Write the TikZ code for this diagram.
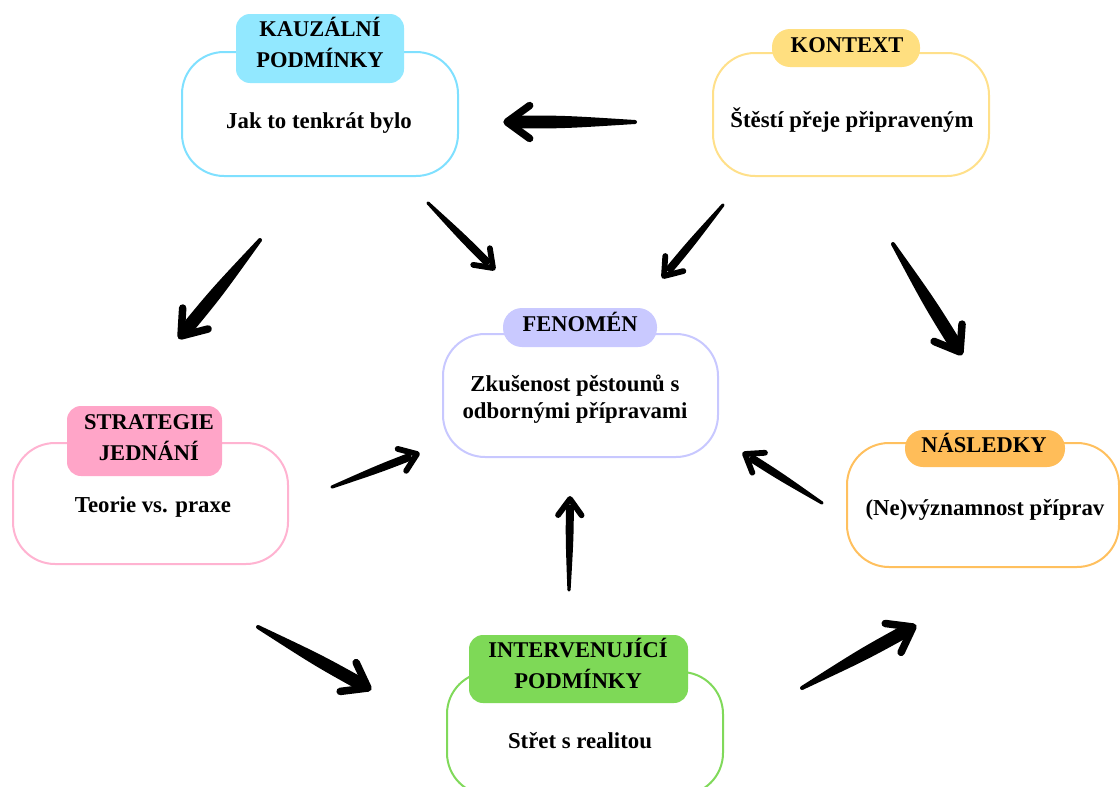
\documentclass[tikz,border=0pt]{standalone}
\usepackage{fontspec}
\setmainfont{Liberation Serif}
\usetikzlibrary{calc}
\definecolor{cyanB}{HTML}{7FE0FF}\definecolor{cyanF}{HTML}{92E8FF}
\definecolor{yelB}{HTML}{FFE08A}\definecolor{yelF}{HTML}{FFDF80}
\definecolor{lavB}{HTML}{C8C8FF}\definecolor{lavF}{HTML}{C9C9FF}
\definecolor{pinkB}{HTML}{FFB3D1}\definecolor{pinkF}{HTML}{FFA5C8}
\definecolor{oraB}{HTML}{FFC05E}\definecolor{oraF}{HTML}{FFBD59}
\definecolor{grnB}{HTML}{80D95A}\definecolor{grnF}{HTML}{7ED957}
\tikzset{
  mainbox/.style={draw=#1, line width=2pt, fill=white, rounded corners=42pt, inner sep=0pt},
  tabbox/.style={fill=#1, draw=none, inner sep=0pt},
  titletext/.style={font=\fontsize{22.5}{31}\selectfont\bfseries, inner sep=0pt, anchor=base},
  bodytext/.style={font=\fontsize{22.8}{27}\selectfont\bfseries, inner sep=0pt, anchor=base},
  shaft/.style={fill=black},
  chevron/.style={draw=black, line cap=round, line join=round},
}
\newcommand{\skarrow}[6]{%
  \coordinate (tmpE) at ($(#2)!6pt!(#1)$);
  \coordinate (tmpM) at ($(#1)!0.55!(#2)$);
  \fill[shaft] ($(#1)!#3!90:(#2)$) .. controls ($(tmpM)!#4!90:(#2)$) .. ($(tmpE)!#4!-90:(#1)$) -- ($(tmpE)!#4!90:(#1)$) .. controls ($(tmpM)!#4!-90:(#2)$) .. ($(#1)!#3!-90:(#2)$) -- cycle;
  \fill[shaft] (#1) circle[radius=#3];
  \draw[chevron, line width=#6] ($(#2)!#5!36:(#1)$) -- (#2) -- ($(#2)!#5!-36:(#1)$);
}
\newcommand{\bigarrow}[2]{\skarrow{#1}{#2}{2pt}{6.5pt}{28pt}{7.5pt}}
\newcommand{\smallarrow}[2]{\skarrow{#1}{#2}{1.6pt}{4pt}{20pt}{5.8pt}}
\begin{document}
\begin{tikzpicture}[x=1pt,y=-1pt]
\useasboundingbox (0,0) rectangle (1120,787);
\clip (0,0) rectangle (1120,787);
% KAUZALNI PODMINKY
\node[mainbox=cyanB, minimum width=276pt, minimum height=124pt] (k) at (320,114) {};
\node[tabbox=cyanF, rounded corners=14pt, minimum width=168pt, minimum height=69pt] (kt) at (320,48.5) {};
\node[titletext] (ktl) at (320,67) {\begin{tabular}[b]{@{}c@{}}KAUZÁLNÍ\\PODMÍNKY\end{tabular}};
\node[bodytext] (kb) at (319,128) {Jak to tenkrát bylo};
% KONTEXT
\node[mainbox=yelB, minimum width=276pt, minimum height=123pt] (c) at (851,114.5) {};
\node[tabbox=yelF, rounded corners=18pt, minimum width=148pt, minimum height=38pt] (ct) at (846,48) {};
\node[titletext] (ctl) at (847,52) {KONTEXT};
\node[bodytext] (cb) at (852,127) {Štěstí přeje připraveným};
% FENOMEN
\node[mainbox=lavB, minimum width=275pt, minimum height=123pt] (f) at (580.5,395.5) {};
\node[tabbox=lavF, rounded corners=19pt, minimum width=154pt, minimum height=39pt] (ft) at (580,327.5) {};
\node[titletext] (ftl) at (580,331) {FENOMÉN};
\node[bodytext] (fb) at (575,418) {\begin{tabular}[b]{@{}c@{}}Zkušenost pěstounů s\\odbornými přípravami\end{tabular}};
% STRATEGIE JEDNANI
\node[mainbox=pinkB, minimum width=275pt, minimum height=121pt] (s) at (150.5,503.5) {};
\node[tabbox=pinkF, rounded corners=14pt, minimum width=155pt, minimum height=70pt] (st) at (144.5,441) {};
\node[titletext] (stl) at (149,460) {\begin{tabular}[b]{@{}c@{}}STRATEGIE\\JEDNÁNÍ\end{tabular}};
\node[bodytext] (sb) at (153,512) {Teorie vs. praxe};
% NASLEDKY
\node[mainbox=oraB, minimum width=272pt, minimum height=124pt] (n) at (983,505) {};
\node[tabbox=oraF, rounded corners=18pt, minimum width=160pt, minimum height=37pt] (nt) at (985,448.5) {};
\node[titletext] (ntl) at (984,452) {NÁSLEDKY};
\node[bodytext] (nb) at (985,515) {(Ne)významnost příprav};
% INTERVENUJICI PODMINKY
\node[mainbox=grnB, minimum width=276pt, minimum height=123pt] (i) at (585,733.5) {};
\node[tabbox=grnF, rounded corners=14pt, minimum width=219pt, minimum height=68pt] (it) at (578.5,669) {};
\node[titletext] (itl) at (578,688) {\begin{tabular}[b]{@{}c@{}}INTERVENUJÍCÍ\\PODMÍNKY\end{tabular}};
\node[bodytext] (ib) at (580,748) {Střet s realitou};
% arrow end points
\coordinate (c-k-s) at (635,122);  \coordinate (c-k-e) at (507,122);
\coordinate (k-f-s) at (428,203);  \coordinate (k-f-e) at (493,268);
\coordinate (c-f-s) at (723,205);  \coordinate (c-f-e) at (664,276);
\coordinate (k-s-s) at (260,240);  \coordinate (k-s-e) at (181,336);
\coordinate (c-n-s) at (893,244);  \coordinate (c-n-e) at (960,352);
\coordinate (s-f-s) at (332,487);  \coordinate (s-f-e) at (417,454);
\coordinate (n-f-s) at (822,503);  \coordinate (n-f-e) at (745,454);
\coordinate (i-f-s) at (569,590);  \coordinate (i-f-e) at (570,499);
\coordinate (s-i-s) at (258,627);  \coordinate (s-i-e) at (368,688);
\coordinate (i-n-s) at (802,688);  \coordinate (i-n-e) at (913,627);
\bigarrow{c-k-s}{c-k-e}
\smallarrow{k-f-s}{k-f-e}
\smallarrow{c-f-s}{c-f-e}
\bigarrow{k-s-s}{k-s-e}
\bigarrow{c-n-s}{c-n-e}
\smallarrow{s-f-s}{s-f-e}
\smallarrow{n-f-s}{n-f-e}
\smallarrow{i-f-s}{i-f-e}
\bigarrow{s-i-s}{s-i-e}
\bigarrow{i-n-s}{i-n-e}
\end{tikzpicture}
\end{document}
